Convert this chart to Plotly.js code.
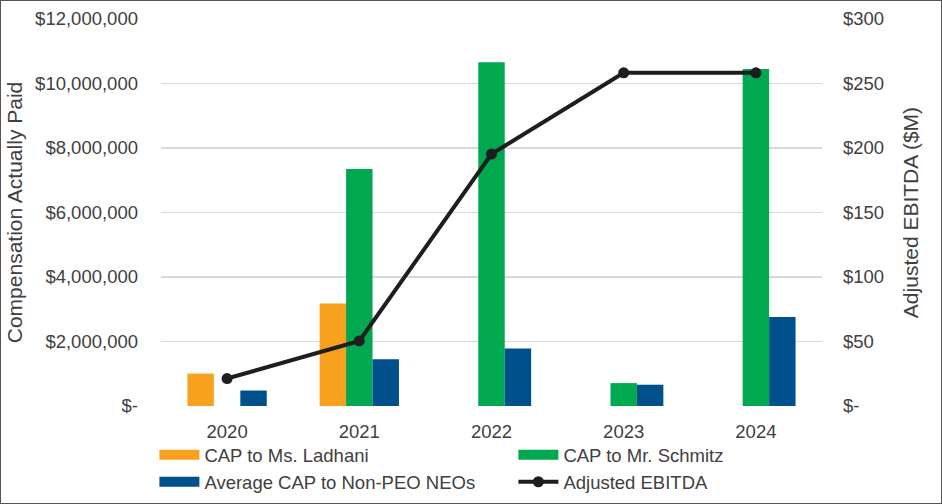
<!DOCTYPE html>
<html>
<head>
<meta charset="utf-8">
<script src="https://cdn.plot.ly/plotly-3.0.1.min.js"></script>
<style>
  html, body { margin: 0; padding: 0; background: #fff; }
  #wrap { width: 942px; height: 504px; box-sizing: border-box; border: 1px solid #555; overflow: hidden; }
  #chart { width: 940px; height: 502px; }
</style>
</head>
<body>
<div id="wrap"><div id="chart"></div></div>
<script>
const years = ['2020', '2021', '2022', '2023', '2024'];
const capLadhani = [1005000, 3180000, null, null, null];
const capSchmitz = [null, 7350000, 10660000, 710000, 10450000];
const capNonPeo = [480000, 1450000, 1780000, 660000, 2760000];
const adjEbitda = [21.3, 50.4, 195.3, 258.3, 258.3];

const leftTickVals = [0, 2000000, 4000000, 6000000, 8000000, 10000000, 12000000];
const leftTickText = ['$-', '$2,000,000', '$4,000,000', '$6,000,000', '$8,000,000', '$10,000,000', '$12,000,000'];
const rightTickVals = [0, 50, 100, 150, 200, 250, 300];
const rightTickText = ['$-', '$50', '$100', '$150', '$200', '$250', '$300'];

const FONT = 'Liberation Sans, Arial, sans-serif';
const TXT = '#404040';
const C_ORANGE = '#F8A11E', C_GREEN = '#00A84F', C_BLUE = '#00508C', C_LINE = '#1E1E1E';

// legend proxies (wide rectangle swatches like the original), no data drawn
function proxy(name, color, group) {
  return { type: 'scatter', mode: 'lines', name: name, x: [null], y: [null], legendgroup: group,
    line: { color: color, width: 10 }, hoverinfo: 'skip' };
}

const traces = [
  { type: 'bar', name: 'CAP to Ms. Ladhani', x: years, y: capLadhani, marker: { color: C_ORANGE }, showlegend: false, legendgroup: 'a' },
  { type: 'bar', name: 'CAP to Mr. Schmitz', x: years, y: capSchmitz, marker: { color: C_GREEN }, showlegend: false, legendgroup: 'b' },
  { type: 'bar', name: 'Average CAP to Non-PEO NEOs', x: years, y: capNonPeo, marker: { color: C_BLUE }, showlegend: false, legendgroup: 'c' },
  proxy('CAP to Ms. Ladhani', C_ORANGE, 'a'),
  proxy('CAP to Mr. Schmitz', C_GREEN, 'b'),
  proxy('Average CAP to Non-PEO NEOs', C_BLUE, 'c'),
  { type: 'scatter', mode: 'lines+markers', name: 'Adjusted EBITDA', x: years, y: adjEbitda, yaxis: 'y2',
    line: { color: C_LINE, width: 4 }, marker: { color: C_LINE, size: 11 } }
];

const layout = {
  width: 940, height: 502,
  margin: { l: 160, r: 119, t: 18, b: 97, autoexpand: false },
  paper_bgcolor: '#fff', plot_bgcolor: '#fff',
  font: { family: FONT, size: 18.5, color: TXT },
  barmode: 'group', bargap: 0.4, bargroupgap: 0,
  showlegend: true,
  xaxis: { type: 'category', showgrid: false, zeroline: false, showline: false, ticks: '',
    ticklabelstandoff: 12, tickfont: { size: 18.5, color: TXT } },
  yaxis: { range: [0, 12000000], tickvals: leftTickVals, ticktext: leftTickText,
    showgrid: true, gridcolor: '#D9D9D9', gridwidth: 1.5, zeroline: false, showline: false, ticks: '',
    ticklabelstandoff: 22, tickfont: { size: 18.5, color: TXT },
    title: { text: 'Compensation Actually Paid', font: { size: 21, color: TXT }, standoff: 6 } },
  yaxis2: { range: [0, 300], overlaying: 'y', side: 'right', tickvals: rightTickVals, ticktext: rightTickText,
    showgrid: false, zeroline: false, showline: false, ticks: '',
    ticklabelstandoff: 20, tickfont: { size: 18.5, color: TXT },
    title: { text: 'Adjusted EBITDA ($M)', font: { size: 21, color: TXT }, standoff: 20 } },
  legend: { orientation: 'h', x: -0.01, xanchor: 'left', y: -0.078, yanchor: 'top',
    bgcolor: 'rgba(0,0,0,0)', borderwidth: 0,
    entrywidth: 304, entrywidthmode: 'pixels', traceorder: 'normal',
    font: { size: 18.5, color: TXT }, itemwidth: 40, tracegroupgap: 0 }
};

Plotly.newPlot('chart', traces, layout, { displayModeBar: false, staticPlot: true });
</script>
</body>
</html>
